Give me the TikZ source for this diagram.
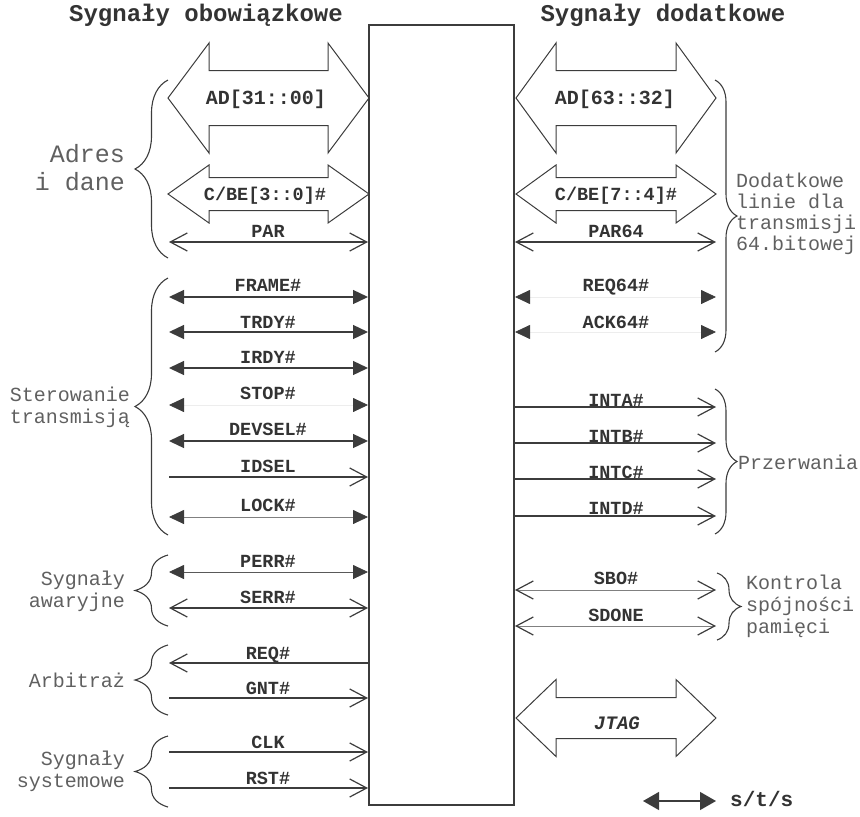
\documentclass[tikz,border=0pt]{standalone}
\usepackage{fontspec}
\usetikzlibrary{arrows.meta,decorations.pathreplacing}
\newfontfamily\monof{Liberation Mono}
\definecolor{ink}{HTML}{3C3C3C}
\definecolor{txt}{HTML}{333333}
\definecolor{grp}{HTML}{606060}
\tikzset{
 ftip/.tip={Triangle[length=15pt,width=14pt,color=ink]},
 otip/.tip={Straight Barb[length=17pt,width=18pt,line width=1.2pt 0,color=ink]},
 legtip/.tip={Triangle[length=16pt,width=18pt,color=ink]},
 sig/.style={line width=1.3pt, draw=ink},
 thinsig/.style={line width=0.8pt, draw=black!50},
 ghost/.style={line width=0.8pt, draw=black!7},
 bus/.style={line width=1pt, draw=ink, line join=miter},
 sl/.style={font=\monof\bfseries\fontsize{18.5}{20}\selectfont, text=txt, inner sep=0pt, text height=12pt, text depth=0pt},
 busl/.style={font=\monof\bfseries\fontsize{20}{22}\selectfont, text=txt, inner sep=0pt, text height=13pt, text depth=0pt},
 ttl/.style={font=\monof\bfseries\fontsize{24}{26}\selectfont, text=txt, inner sep=0pt},
 grpl/.style={font=\monof\fontsize{20}{22}\selectfont, text=grp, inner sep=0pt},
 brc/.style={decorate, line width=1.1pt, draw=ink},
}
\newcommand{\busarrow}[6]{% x1, x2, y, hh, sh, hl
 \draw[bus] (#1,#3) -- (#1+#6,#3-#4) -- (#1+#6,#3-#5) -- (#2-#6,#3-#5) -- (#2-#6,#3-#4) -- (#2,#3) -- (#2-#6,#3+#4) -- (#2-#6,#3+#5) -- (#1+#6,#3+#5) -- (#1+#6,#3+#4) -- cycle;}
\newcommand{\lsig}[5]{% name, line y, label y, style, text
 \coordinate (#1) at (169,#2);
 \draw[#4] (#1) -- (#1 -| dev.west);
 \node[sl] (#1t) at (268,#3) {#5};}
\newcommand{\rsig}[5]{%
 \coordinate (#1) at (716,#2);
 \draw[#4] (#1 -| dev.east) -- (#1);
 \node[sl] (#1t) at (616,#3) {#5};}
\begin{document}
\begin{tikzpicture}[x=1pt,y=-1pt]
\useasboundingbox (0,0) rectangle (860,817);

% central box
\node[draw=ink, line width=2pt, minimum width=145pt, minimum height=780pt, inner sep=0pt] (dev) at (441.5,415) {};

% titles
\node[ttl] (t1) at (206,15) {Sygnały obowiązkowe};
\node[ttl] (t2) at (663,15) {Sygnały dodatkowe};

% bus arrows
\busarrow{168}{369}{98}{55}{27.5}{41}
\node[busl] (adl) at (266,98) {AD[31::00]};
\busarrow{168}{369}{194}{29}{16.5}{41}
\node[sl] (cbel) at (265,194) {C/BE[3::0]\#};
\busarrow{516}{716}{98}{55}{27.5}{40}
\node[busl] (adr) at (615,98) {AD[63::32]};
\busarrow{516}{716}{194}{29}{16.5}{40}
\node[sl] (cber) at (616,194) {C/BE[7::4]\#};
\busarrow{516}{716}{718}{38.5}{20.5}{40}
\node[sl, font=\monof\bfseries\itshape\fontsize{19}{20}\selectfont] (jtag) at (617,723) {JTAG};

% left signals
\lsig{par}{242}{231}{sig,otip-otip}{PAR}
\lsig{frame}{297}{285}{sig,ftip-ftip}{FRAME\#}
\lsig{trdy}{332}{322}{sig,ftip-ftip}{TRDY\#}
\lsig{irdy}{368}{357}{sig,ftip-ftip}{IRDY\#}
\lsig{stop}{405}{393}{ghost,ftip-ftip}{STOP\#}
\lsig{devsel}{441}{429}{sig,ftip-ftip}{DEVSEL\#}
\lsig{idsel}{477}{466}{sig,-otip}{IDSEL}
\lsig{lock}{517}{505}{thinsig,ftip-ftip}{LOCK\#}
\lsig{perr}{572}{561}{thinsig,draw=black!65,ftip-ftip}{PERR\#}
\lsig{serr}{608}{597}{sig,otip-otip}{SERR\#}
\lsig{req}{663}{653}{sig,otip-}{REQ\#}
\lsig{gnt}{698}{688}{sig,-otip}{GNT\#}
\lsig{clk}{752}{742}{sig,-otip}{CLK}
\lsig{rst}{788}{778}{sig,-otip}{RST\#}

% right signals
\rsig{par64}{242}{231}{sig,otip-otip}{PAR64}
\rsig{req64}{297}{285}{ghost,ftip-ftip}{REQ64\#}
\rsig{ack64}{332}{322}{ghost,ftip-ftip}{ACK64\#}
\rsig{inta}{407}{400}{sig,-otip}{INTA\#}
\rsig{intb}{443}{436}{sig,-otip}{INTB\#}
\rsig{intc}{479}{472}{sig,-otip}{INTC\#}
\rsig{intd}{516}{508}{sig,-otip}{INTD\#}
\rsig{sbo}{590}{578}{thinsig,otip-otip}{SBO\#}
\rsig{sdone}{626}{615}{thinsig,otip-otip}{SDONE}

% left braces and group labels
\draw[brc, decoration={brace, amplitude=33pt}] (168,258) -- (168,80);
\node[grpl, font=\monof\fontsize{25}{28}\selectfont, align=right, anchor=east] (g1) at (125,168) {Adres\\i dane};
\draw[brc, decoration={brace, amplitude=33pt}] (168,535) -- (168,278);
\node[grpl, align=right, anchor=east] (g2) at (130,407) {Sterowanie\\transmisją};
\draw[brc, decoration={brace, amplitude=33pt}] (168,626) -- (168,555);
\node[grpl, align=right, anchor=east] (g3) at (125,591) {Sygnały\\awaryjne};
\draw[brc, decoration={brace, amplitude=33pt}] (168,715) -- (168,645);
\node[grpl, align=right, anchor=east] (g4) at (125,680) {Arbitraż};
\draw[brc, decoration={brace, amplitude=33pt}] (168,807) -- (168,736);
\node[grpl, align=right, anchor=east] (g5) at (125,771) {Sygnały\\systemowe};

% right braces and group labels
\draw[brc, decoration={brace, amplitude=22pt}] (715,80) -- (715,352);
\node[grpl, font=\monof\fontsize{20}{21}\selectfont, align=left, anchor=west] (g6) at (736,214) {Dodatkowe\\linie dla\\transmisji\\64.bitowej};
\draw[brc, decoration={brace, amplitude=22pt}] (715,389) -- (715,534);
\node[grpl, anchor=west] (g7) at (738,462) {Przerwania};
\draw[brc, decoration={brace, amplitude=24pt}] (717,573) -- (717,640);
\node[grpl, align=left, anchor=west] (g8) at (746,606) {Kontrola\\spójności\\pamięci};

% legend
\coordinate (legA) at (643,801);
\coordinate (legB) at (716,801);
\draw[sig, legtip-legtip] (legA) -- (legB);
\node[sl, font=\monof\bfseries\fontsize{21}{22}\selectfont, anchor=west, text height=10pt] (legt) at (730,801) {s/t/s};
\end{tikzpicture}
\end{document}
